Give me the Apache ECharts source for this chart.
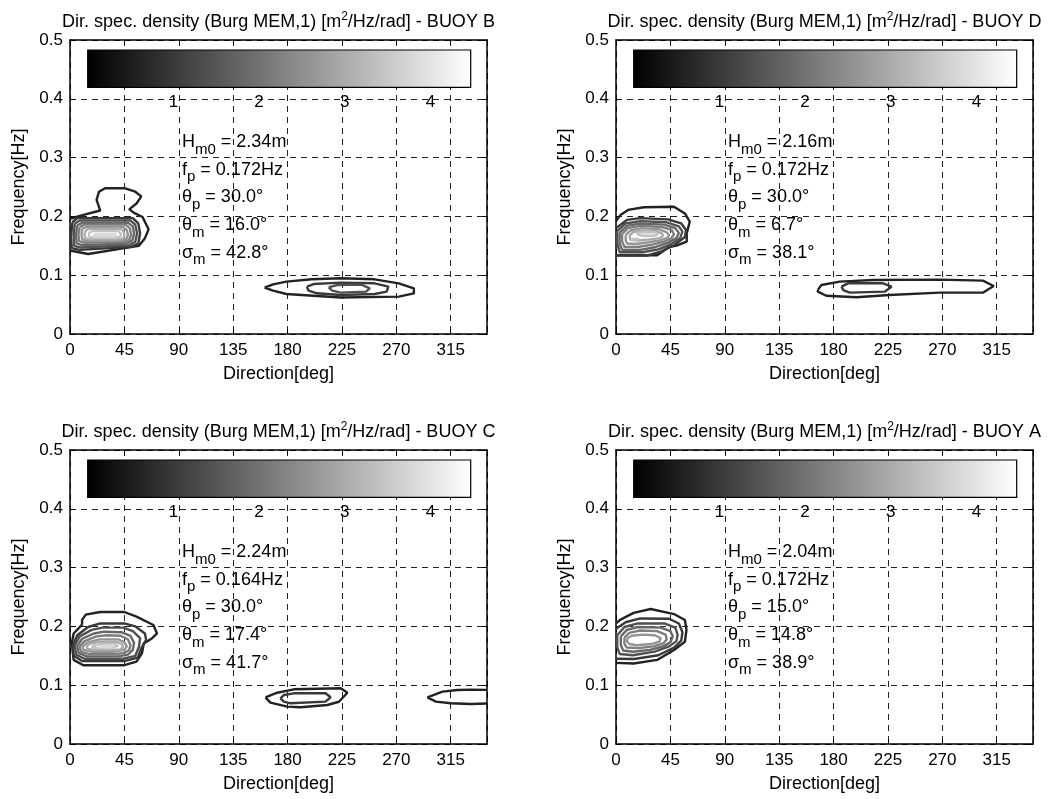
<!DOCTYPE html>
<html><head><meta charset="utf-8">
<script src="https://cdn.jsdelivr.net/npm/echarts@6/dist/echarts.min.js"></script>
<style>html,body{margin:0;padding:0;background:#fff}#c{width:1052px;height:799px}</style>
</head><body><div id="c"></div>
<script>
// ---------- data ----------
const panelNames = ['BUOY B', 'BUOY D', 'BUOY C', 'BUOY A'];
const hm0 = ['2.34m', '2.16m', '2.24m', '2.04m'];
const fp = ['0.172Hz', '0.172Hz', '0.164Hz', '0.172Hz'];
const thetaP = ['30.0°', '30.0°', '30.0°', '15.0°'];
const thetaM = ['16.0°', '6.7°', '17.4°', '14.8°'];
const sigmaM = ['42.8°', '38.1°', '41.7°', '38.9°'];
const dirTicks = [0, 45, 90, 135, 180, 225, 270, 315];
const dirMax = 345;
const freqTicks = [0, 0.1, 0.2, 0.3, 0.4, 0.5];
const cbTicks = [1, 2, 3, 4];
const cbMax = 4.47;

// contour lines: level [m2/Hz/rad] and points [direction deg, frequency Hz]
const contoursB = [
  {level: 0.6, pts: [[0,0.196],[12,0.203],[25,0.210],[22,0.228],[24,0.242],[29,0.248],[45,0.248],[54,0.242],[59,0.234],[55,0.222],[49,0.212],[53,0.206],[60,0.199],[65,0.178],[62,0.163],[57,0.150],[45,0.146],[15,0.136],[0,0.142]]},
  {level: 1.0, pts: [[2,0.190],[6,0.197],[52,0.197],[56.5,0.188],[58,0.171],[56.5,0.154],[51,0.1485],[8,0.143],[1.5,0.146],[0.8,0.165],[2,0.190]]},
  {level: 1.4, pts: [[4,0.188],[8,0.193],[50,0.193],[54,0.186],[55.5,0.171],[54,0.157],[49,0.151],[9,0.147],[3.5,0.150],[3,0.168],[4,0.188]]},
  {level: 1.8, pts: [[6,0.185],[10,0.189],[48,0.189],[52,0.183],[53,0.170],[51.5,0.159],[47,0.154],[10,0.151],[5.5,0.154],[5,0.170],[6,0.185]]},
  {level: 2.2, pts: [[8,0.182],[12,0.186],[46,0.186],[49.5,0.180],[50.5,0.169],[49,0.160],[45,0.157],[12,0.155],[7.5,0.158],[7,0.170],[8,0.182]]},
  {level: 2.6, pts: [[10,0.179],[14,0.182],[44,0.182],[47,0.177],[48,0.168],[46.5,0.161],[43,0.159],[14,0.158],[10,0.161],[9.5,0.170],[10,0.179]]},
  {level: 3.0, pts: [[13,0.176],[16,0.179],[42,0.179],[44.5,0.174],[45,0.167],[44,0.162],[40,0.161],[16,0.161],[12.5,0.163],[12,0.170],[13,0.176]]},
  {level: 3.4, pts: [[16,0.173],[19,0.175],[40,0.175],[42,0.171],[42,0.166],[38,0.164],[19,0.164],[15.5,0.166],[16,0.173]]},
  {level: 3.8, pts: [[20,0.170],[38,0.170],[39.5,0.168],[37,0.166],[20,0.166],[18.5,0.168],[20,0.170]]},
  {level: 0.6, pts: [[161,0.079],[168,0.0845],[179,0.089],[200,0.093],[224,0.0947],[252,0.093],[272,0.086],[284.5,0.0777],[284.5,0.069],[272,0.0635],[224,0.062],[179,0.068],[168,0.0737],[161,0.079]]},
  {level: 1.0, pts: [[196,0.0805],[201.6,0.085],[224,0.0873],[252,0.0862],[263.4,0.0805],[262,0.072],[252,0.068],[224,0.0663],[204.4,0.0692],[197.4,0.0737],[196,0.0805]]},
  {level: 1.4, pts: [[214,0.0794],[221,0.0833],[241,0.0839],[248,0.0777],[245,0.072],[224,0.0703],[217,0.0737],[214,0.0794]]}
];
const contoursD = [
  {level: 0.6, pts: [[0,0.192],[4,0.203],[10,0.211],[23,0.2155],[48,0.2165],[57,0.205],[61,0.191],[58.5,0.171],[58.5,0.157],[51,0.151],[44,0.148],[34,0.134],[0,0.134]]},
  {level: 1.0, pts: [[0,0.180],[9,0.194],[20,0.197],[43,0.195],[54,0.188],[58,0.177],[57,0.165],[48,0.151],[37,0.140],[26,0.1335],[0,0.1335]]},
  {level: 1.4, pts: [[1,0.175],[8,0.188],[20,0.192],[42,0.190],[52,0.183],[55,0.174],[53,0.163],[45,0.152],[35,0.144],[22,0.139],[3,0.139],[1,0.155],[1,0.175]]},
  {level: 1.8, pts: [[3,0.172],[9,0.184],[20,0.188],[40,0.186],[49,0.180],[52,0.172],[50,0.163],[43,0.155],[33,0.148],[20,0.143],[5,0.143],[3,0.155],[3,0.172]]},
  {level: 2.2, pts: [[5,0.170],[10,0.180],[20,0.184],[38,0.182],[46,0.177],[48,0.170],[46,0.163],[40,0.157],[30,0.152],[18,0.148],[7,0.148],[5,0.158],[5,0.170]]},
  {level: 2.6, pts: [[8,0.168],[12,0.176],[21,0.180],[36,0.178],[42,0.173],[44,0.168],[42,0.163],[36,0.159],[27,0.156],[16,0.153],[9,0.154],[8,0.160],[8,0.168]]},
  {level: 3.0, pts: [[11,0.167],[14,0.173],[22,0.176],[33,0.175],[38,0.171],[39,0.167],[36,0.163],[28,0.161],[18,0.159],[12,0.160],[11,0.167]]},
  {level: 3.4, pts: [[18,0.172],[24,0.1735],[32,0.173],[35,0.170],[31,0.167],[22,0.167],[18,0.169],[18,0.172]]},
  {level: 3.4, pts: [[13,0.1615],[19,0.1615],[19.5,0.1595],[13,0.1595],[13,0.1615]]},
  {level: 0.6, pts: [[167,0.075],[170,0.0833],[185,0.089],[213,0.0918],[268,0.0924],[303.5,0.0907],[312.5,0.0816],[303.5,0.0703],[268,0.0703],[226,0.0663],[199,0.0625],[174,0.065],[167,0.072],[167,0.075]]},
  {level: 1.0, pts: [[186.5,0.0805],[192,0.0862],[221,0.0862],[228,0.0805],[222.3,0.072],[193.4,0.0703],[188,0.0748],[186.5,0.0805]]}
];
const contoursC = [
  {level: 0.6, pts: [[10,0.203],[10,0.211],[13,0.220],[25,0.2245],[45,0.2245],[55,0.2165],[69,0.2024],[72,0.188],[68,0.180],[61,0.171],[59.5,0.154],[55,0.140],[45,0.134],[11,0.134],[3,0.143],[1.5,0.171],[3,0.188],[10,0.203]]},
  {level: 1.0, pts: [[15,0.199],[25,0.205],[45,0.205],[54,0.200],[62,0.188],[63,0.177],[59,0.163],[56,0.147],[45,0.141],[10,0.141],[3,0.150],[2.5,0.168],[6,0.185],[15,0.199]]},
  {level: 1.4, pts: [[18,0.194],[27,0.198],[44,0.198],[52,0.192],[58,0.180],[57,0.165],[54,0.150],[44,0.145],[12,0.145],[5,0.152],[4,0.168],[8,0.183],[18,0.194]]},
  {level: 1.8, pts: [[20,0.188],[28,0.191],[43,0.190],[50,0.184],[53,0.172],[52,0.160],[48,0.152],[40,0.149],[14,0.149],[7,0.155],[6,0.167],[10,0.179],[20,0.188]]},
  {level: 2.2, pts: [[22,0.183],[30,0.185],[42,0.184],[48,0.178],[50,0.168],[49,0.160],[45,0.155],[38,0.153],[16,0.153],[9,0.157],[8,0.166],[12,0.175],[22,0.183]]},
  {level: 2.6, pts: [[24,0.178],[40,0.178],[45,0.173],[47,0.166],[45,0.160],[36,0.157],[18,0.157],[11,0.160],[10.5,0.166],[14,0.172],[24,0.178]]},
  {level: 3.0, pts: [[25,0.174],[38,0.174],[43,0.170],[44,0.165],[42,0.161],[34,0.160],[20,0.160],[14,0.162],[14,0.167],[17,0.171],[25,0.174]]},
  {level: 3.4, pts: [[26,0.170],[37,0.170],[40,0.167],[39,0.164],[32,0.163],[22,0.163],[18,0.165],[20,0.168],[26,0.170]]},
  {level: 3.8, pts: [[28,0.167],[36,0.167],[37,0.1655],[34,0.1645],[24,0.1645],[23,0.166],[28,0.167]]},
  {level: 0.6, pts: [[161.7,0.0794],[171.4,0.0872],[185.2,0.093],[224,0.0947],[229.5,0.0872],[222.5,0.0719],[212.9,0.0663],[190.7,0.0624],[179.7,0.0635],[165.8,0.0703],[161.7,0.0794]]},
  {level: 1.0, pts: [[174.1,0.0777],[176.9,0.0833],[185.2,0.0862],[211.4,0.0862],[215.6,0.0794],[211.4,0.072],[182.4,0.0692],[176.9,0.072],[174.1,0.0777]]},
  {level: 0.6, pts: [[345,0.092],[332,0.0925],[320.6,0.0918],[308.2,0.089],[295.8,0.0794],[302.7,0.072],[315,0.0692],[331.7,0.068],[345,0.069]]}
];
const contoursA = [
  {level: 0.6, pts: [[0,0.205],[3.4,0.211],[14.6,0.223],[28.7,0.2296],[48,0.221],[57,0.211],[58.3,0.194],[57,0.174],[48,0.160],[34,0.143],[14.6,0.137],[0,0.138]]},
  {level: 1.0, pts: [[0,0.196],[8,0.207],[20,0.2135],[44,0.213],[52,0.205],[55,0.190],[54,0.176],[48,0.164],[35,0.151],[15,0.1445],[0,0.145]]},
  {level: 1.4, pts: [[1,0.185],[7,0.199],[18,0.205],[40,0.205],[49,0.198],[51,0.186],[50,0.175],[44,0.166],[32,0.157],[14,0.151],[3,0.153],[1,0.165],[1,0.185]]},
  {level: 1.8, pts: [[4,0.183],[9,0.194],[18,0.199],[37,0.198],[45,0.192],[47,0.183],[45,0.173],[39,0.166],[28,0.160],[14,0.157],[6,0.159],[4,0.168],[4,0.183]]},
  {level: 2.2, pts: [[7,0.181],[11,0.189],[20,0.193],[34,0.192],[41,0.186],[42,0.178],[39,0.171],[31,0.166],[19,0.163],[9,0.164],[7,0.170],[7,0.181]]},
  {level: 2.6, pts: [[9,0.179],[13,0.184],[22,0.186],[32,0.185],[37,0.180],[36,0.174],[29,0.170],[17,0.168],[11,0.170],[9,0.175],[9,0.179]]}
];
const panelContours = [contoursB, contoursD, contoursC, contoursA];

// ---------- layout / style ----------
const FONT = "'Liberation Sans', Arial, Helvetica, sans-serif";
const W = 417, H = 294;
const boxes = [[70, 40], [616, 40], [70, 450], [616, 450]];
function gray(v) {
  const g = Math.round(255 * Math.min(v, cbMax) / cbMax);
  return 'rgb(' + g + ',' + g + ',' + g + ')';
}
const dirStep = dirTicks[1] - dirTicks[0];
const freqStep = Math.round((freqTicks[1] - freqTicks[0]) * 1000) / 1000;
const black = '#000';
const dash = {show: true, lineStyle: {color: '#222', width: 1, type: [6, 5]}};
const frame = {show: true, onZero: false, lineStyle: {color: black, width: 1.5}};
const tick = {show: true, inside: true, length: 5, lineStyle: {color: black, width: 1}};

const grid = [], xAxis = [], yAxis = [], series = [], graphic = [];
boxes.forEach((b, i) => {
  grid.push({left: b[0], top: b[1], width: W, height: H, outerBoundsMode: 'none', containLabel: false});
});
boxes.forEach((b, i) => {
  grid.push({left: b[0] + 17.7, top: b[1] + 10, width: 383, height: 37.3, show: true, z: 5,
    outerBoundsMode: 'none', containLabel: false,
    backgroundColor: {type: 'linear', x: 0, y: 0, x2: 1, y2: 0,
      colorStops: [{offset: 0, color: gray(0)}, {offset: 1, color: gray(cbMax)}]},
    borderColor: black, borderWidth: 1.2});
});
boxes.forEach((b, i) => {
  const common = {gridIndex: i, type: 'value', min: dirTicks[0], max: dirMax, interval: dirStep};
  xAxis.push(Object.assign({}, common, {
    position: 'bottom', axisLine: frame, axisTick: tick,
    axisLabel: {color: black, fontSize: 17, fontFamily: FONT, margin: 8, showMaxLabel: false,
      formatter: v => dirTicks.includes(v) ? String(v) : ''},
    splitLine: dash,
    name: 'Direction[deg]', nameLocation: 'middle', nameGap: 31,
    nameTextStyle: {color: black, fontSize: 18, fontFamily: FONT}
  }));
  xAxis.push(Object.assign({}, common, {
    position: 'top', axisLine: frame, axisTick: tick,
    axisLabel: {show: false}, splitLine: {show: false}
  }));
  const ycommon = {gridIndex: i, type: 'value', min: freqTicks[0], max: freqTicks[freqTicks.length - 1], interval: freqStep};
  yAxis.push(Object.assign({}, ycommon, {
    position: 'left', axisLine: frame, axisTick: tick,
    axisLabel: {color: black, fontSize: 17, fontFamily: FONT, margin: 7,
      formatter: v => v === 0 ? '0' : v.toFixed(1)},
    splitLine: dash,
    name: 'Frequency[Hz]', nameLocation: 'middle', nameGap: 42,
    nameTextStyle: {color: black, fontSize: 18, fontFamily: FONT}
  }));
  yAxis.push(Object.assign({}, ycommon, {
    position: 'right', axisLine: frame, axisTick: tick,
    axisLabel: {show: false}, splitLine: {show: false}
  }));
});
boxes.forEach((b, i) => {
  xAxis.push({gridIndex: 4 + i, type: 'value', min: 0, max: cbMax, interval: 1, z: 6,
    axisLine: {show: false}, axisTick: {show: false}, splitLine: {show: false},
    axisLabel: {color: black, fontSize: 17, fontFamily: FONT, margin: 7,
      showMinLabel: false, showMaxLabel: false,
      formatter: v => cbTicks.includes(v) ? String(v) : ''}});
  yAxis.push({gridIndex: 4 + i, type: 'value', min: 0, max: 1, show: false});
});

panelContours.forEach((list, i) => {
  list.forEach(c => {
    series.push({type: 'line', xAxisIndex: 2 * i, yAxisIndex: 2 * i, data: c.pts,
      symbol: 'none', showSymbol: false, silent: true, z: 3,
      lineStyle: {width: 2.4, color: gray(c.level)}, itemStyle: {color: gray(c.level)},
      emphasis: {disabled: true}});
  });
});

boxes.forEach((b, i) => {
  graphic.push({type: 'text', x: b[0] + W / 2, y: b[1] - 29, z: 20, silent: true,
    style: {text: 'Dir. spec. density (Burg MEM,1) [m{sup|2}/Hz/rad] - ' + panelNames[i],
      fill: black, fontSize: 18, fontFamily: FONT, lineHeight: 22,
      align: 'center', textAlign: 'center', verticalAlign: 'top', textVerticalAlign: 'top',
      rich: {sup: {fontSize: 12, fontFamily: FONT, fill: black, verticalAlign: 'top'}}}});
  const lines = [['H', 'm0', hm0[i]], ['f', 'p', fp[i]], ['θ', 'p', thetaP[i]], ['θ', 'm', thetaM[i]], ['σ', 'm', sigmaM[i]]];
  lines.forEach((ln, j) => {
    graphic.push({type: 'text', x: b[0] + 112, y: b[1] + 93 + j * 27.7, z: 20, silent: true,
      style: {text: '{a|' + ln[0] + '}{s|' + ln[1] + '}{a| = ' + ln[2] + '}',
        fill: black, fontSize: 18, fontFamily: FONT,
        align: 'left', textAlign: 'left', verticalAlign: 'top', textVerticalAlign: 'top',
        rich: {
          a: {fontSize: 18, fontFamily: FONT, fill: black, verticalAlign: 'top'},
          s: {fontSize: 15, fontFamily: FONT, fill: black, verticalAlign: 'top', padding: [9, 0, 0, 0]}
        }}});
  });
});

const chart = echarts.init(document.getElementById('c'), null, {renderer: 'canvas'});
chart.setOption({animation: false, backgroundColor: '#fff', grid, xAxis, yAxis, series, graphic});
</script></body></html>
